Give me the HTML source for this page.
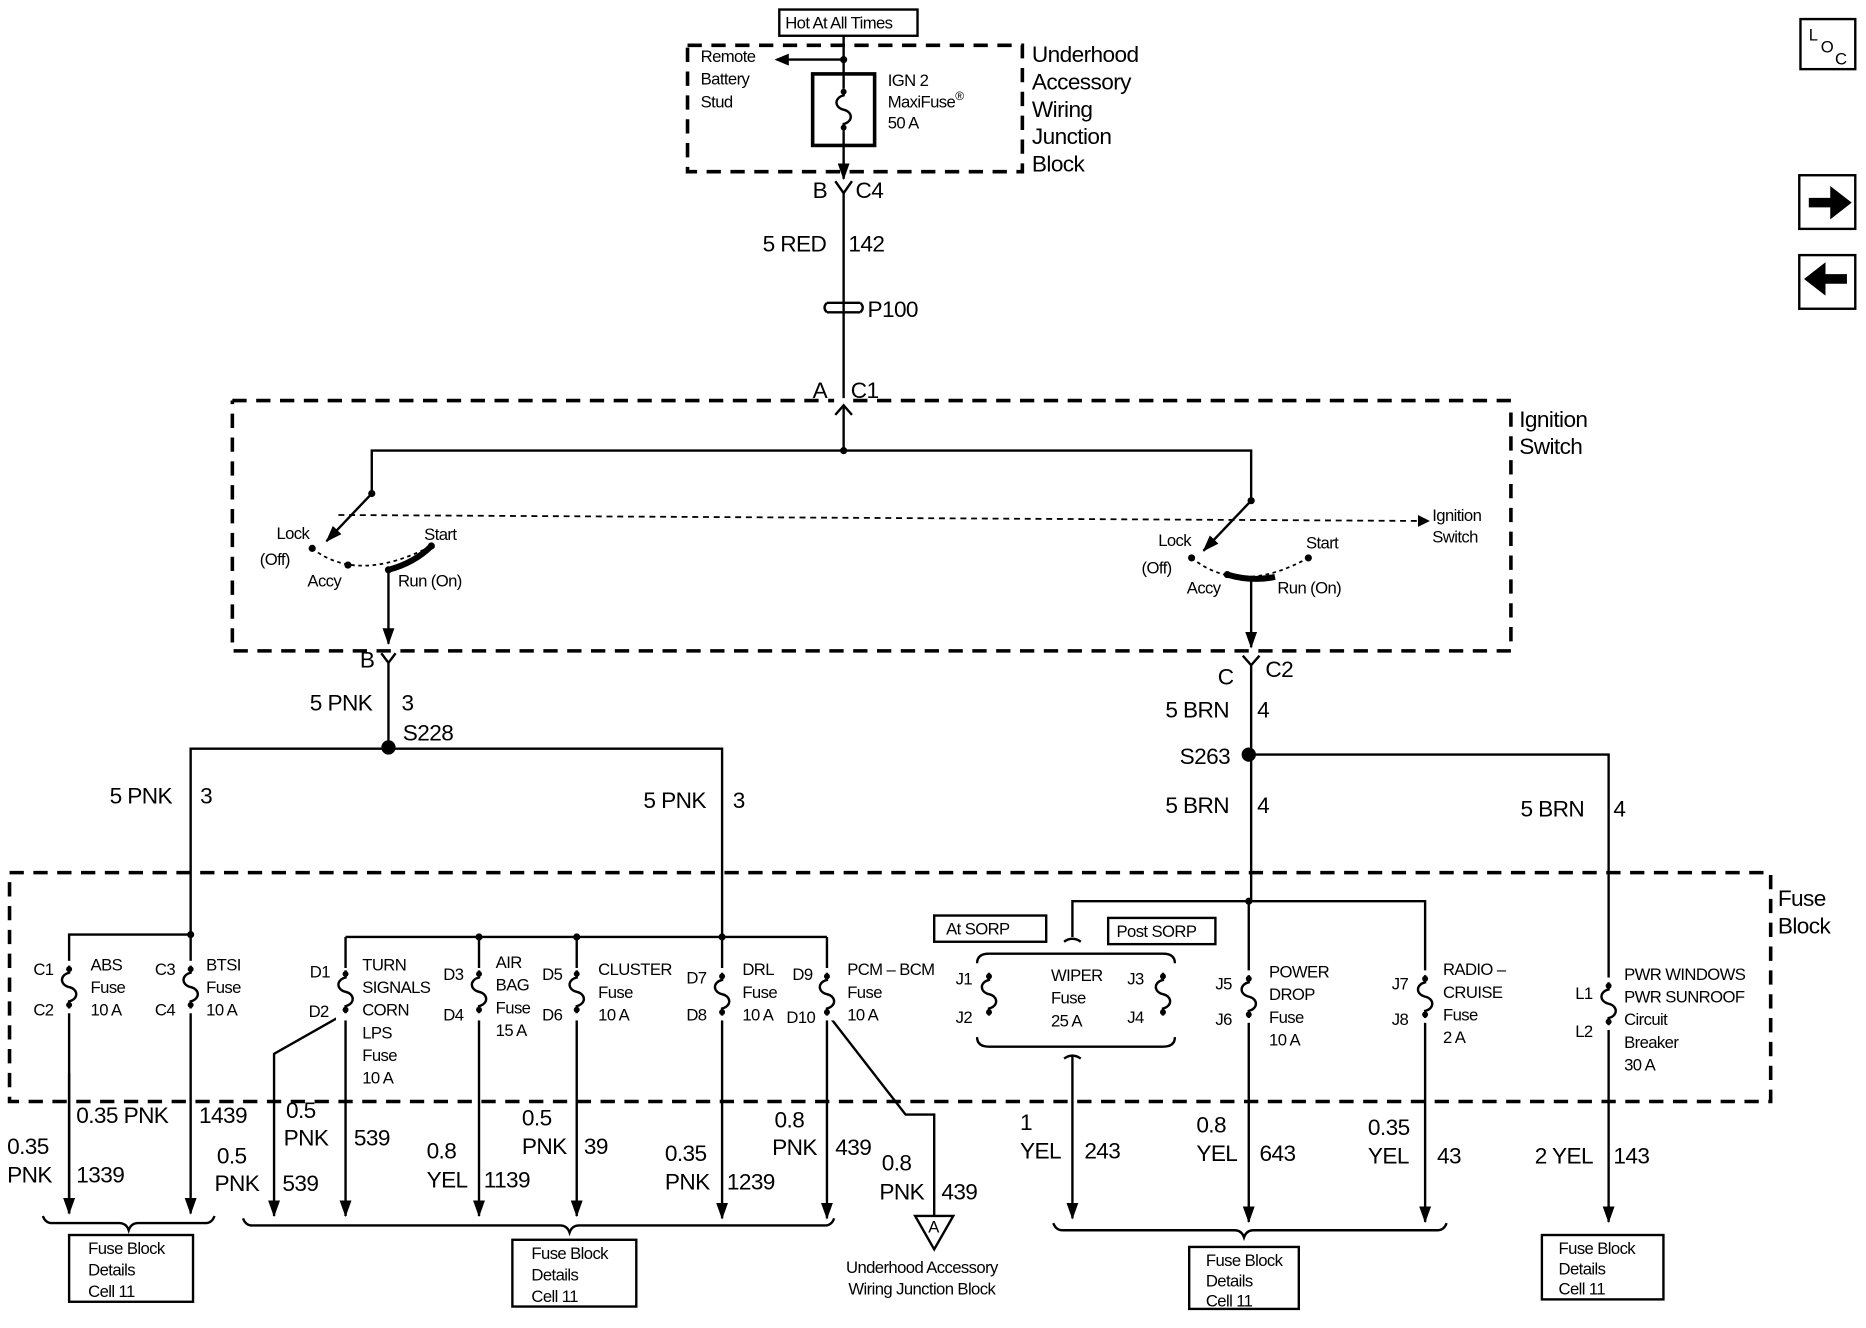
<!DOCTYPE html>
<html><head><meta charset="utf-8"><style>
html,body{margin:0;padding:0;background:#fff;}
svg{display:block;}
text{font-family:"Liberation Sans",sans-serif;fill:#000;}
.s{font-size:14px;letter-spacing:-0.5px}
.m{font-size:15px;letter-spacing:-0.5px}
.b{font-size:19px;letter-spacing:-0.5px}
.w{stroke:#000;stroke-width:2;fill:none}
.d{stroke:#000;stroke-width:3;fill:none;stroke-dasharray:12,8}
</style></head><body>
<svg width="1866" height="1328" viewBox="0 0 1566 1114" preserveAspectRatio="none" xmlns="http://www.w3.org/2000/svg">
<defs>
<marker id="ah" markerWidth="14" markerHeight="10" refX="13" refY="5" orient="auto" markerUnits="userSpaceOnUse"><path d="M0,0 L14,5 L0,10 z" fill="#000"/></marker>
<g id="fuse"><path d="M0,0 v6 c-8,2 -8,10 0,12 c8,2 8,10 0,12 v6" stroke="#000" stroke-width="2" fill="none"/><circle cx="0" cy="3" r="2.5" fill="#000"/><circle cx="0" cy="33" r="2.5" fill="#000"/></g>
</defs>

<!-- right side icons -->
<rect x="1511" y="16" width="46" height="42" class="w" stroke-width="3"/>
<text x="1518" y="34" class="s">L</text><text x="1528" y="44" class="s">O</text><text x="1540" y="54" class="s">C</text>
<rect x="1510" y="147" width="47" height="45" class="w" stroke-width="3"/>
<path d="M1518,166 h18 v-10 l18,14 l-18,14 v-10 h-18z" fill="#000"/>
<rect x="1510" y="214" width="47" height="45" class="w" stroke-width="3"/>
<path d="M1550,230 h-18 v-10 l-18,14 l18,14 v-10 h18z" fill="#000"/>

<!-- top -->
<rect x="654" y="8" width="116" height="22" class="w"/>
<text x="659" y="24" class="s">Hot At All Times</text>
<path d="M577,38 H858 V144 H577 Z" class="d"/>
<line x1="708" y1="30" x2="708" y2="150" class="w" marker-end="url(#ah)"/>
<circle cx="708" cy="50" r="3" fill="#000"/>
<line x1="708" y1="50" x2="652" y2="50" class="w"/>
<path d="M650,50 l12,-5 v10z" fill="#000"/>
<text x="588" y="52" class="s">Remote</text><text x="588" y="71" class="s">Battery</text><text x="588" y="90" class="s">Stud</text>
<rect x="682" y="62" width="52" height="60" fill="#fff" stroke="#000" stroke-width="3"/>
<use href="#fuse" x="708" y="74"/>
<line x1="708" y1="62" x2="708" y2="74" class="w"/><line x1="708" y1="110" x2="708" y2="122" class="w"/>
<text x="745" y="72" class="s">IGN 2</text><text x="745" y="90" class="s">MaxiFuse<tspan font-size="10" dy="-6">®</tspan></text><text x="745" y="108" class="s">50 A</text>
<text x="866" y="52" class="b">Underhood</text><text x="866" y="75" class="b">Accessory</text><text x="866" y="98" class="b">Wiring</text><text x="866" y="121" class="b">Junction</text><text x="866" y="144" class="b">Block</text>
<text x="682" y="166" class="b">B</text><path d="M701,152 l7,10 l7,-10" class="w"/><text x="718" y="166" class="b">C4</text>
<line x1="708" y1="162" x2="708" y2="334" class="w"/>
<text x="640" y="211" class="b">5 RED</text><text x="712" y="211" class="b">142</text>
<path d="M694,254 h28 M694,262 h28" class="w"/><path d="M694,254 q-4,4 0,8 M722,254 q4,4 0,8" class="w"/>
<text x="728" y="266" class="b">P100</text>
<text x="682" y="334" class="b">A</text><text x="714" y="334" class="b">C1</text>
<path d="M701,348 l7,-8 l7,8" class="w"/>

<!-- ignition switch box -->
<path d="M195,336 H700 M716,336 H1268 M1268,346 V546 H195 V336" class="d"/>
<text x="1275" y="358" class="b">Ignition</text><text x="1275" y="381" class="b">Switch</text>
<line x1="708" y1="340" x2="708" y2="378" class="w"/>
<circle cx="708" cy="378" r="3" fill="#000"/>
<path d="M312,414 V378 H1050 V420" class="w"/>
<circle cx="312" cy="414" r="3" fill="#000"/><circle cx="1050" cy="420" r="3" fill="#000"/>
<line x1="312" y1="414" x2="274" y2="454" class="w" marker-end="url(#ah)"/>
<line x1="1050" y1="420" x2="1010" y2="462" class="w" marker-end="url(#ah)"/>
<line x1="284" y1="432" x2="1192" y2="437" stroke="#000" stroke-width="1.5" stroke-dasharray="5,4"/>
<path d="M1200,437 l-10,-5 v10z" fill="#000"/>
<text x="1202" y="437" class="s">Ignition</text><text x="1202" y="455" class="s">Switch</text>
<path d="M262,460 Q300,490 362,458" stroke="#000" stroke-width="1.5" stroke-dasharray="3,3" fill="none"/>
<path d="M326,478 Q348,472 362,458" stroke="#000" stroke-width="5" fill="none"/>
<circle cx="262" cy="460" r="3" fill="#000"/><circle cx="292" cy="474" r="3" fill="#000"/><circle cx="326" cy="478" r="3" fill="#000"/><circle cx="362" cy="458" r="3" fill="#000"/>
<text x="232" y="452" class="s">Lock</text><text x="218" y="474" class="s">(Off)</text><text x="258" y="492" class="s">Accy</text><text x="356" y="453" class="s">Start</text><text x="334" y="492" class="s">Run (On)</text>
<line x1="326" y1="478" x2="326" y2="540" class="w" marker-end="url(#ah)"/>
<path d="M1000,468 Q1040,500 1098,468" stroke="#000" stroke-width="1.5" stroke-dasharray="3,3" fill="none"/>
<path d="M1030,482 Q1050,488 1070,484" stroke="#000" stroke-width="5" fill="none"/>
<circle cx="1000" cy="468" r="3" fill="#000"/><circle cx="1030" cy="482" r="3" fill="#000"/><circle cx="1098" cy="468" r="3" fill="#000"/>
<text x="972" y="458" class="s">Lock</text><text x="958" y="481" class="s">(Off)</text><text x="996" y="498" class="s">Accy</text><text x="1096" y="460" class="s">Start</text><text x="1072" y="498" class="s">Run  (On)</text>
<line x1="1050" y1="484" x2="1050" y2="543" class="w" marker-end="url(#ah)"/>

<!-- under switch -->
<text x="302" y="560" class="b">B</text><path d="M320,548 l6,8 l6,-8" class="w"/>
<line x1="326" y1="556" x2="326" y2="628" class="w"/>
<text x="260" y="596" class="b">5 PNK</text><text x="337" y="596" class="b">3</text>
<circle cx="326" cy="627" r="6" fill="#000"/><text x="338" y="621" class="b">S228</text>
<path d="M160,784 V628 H606 V786" class="w"/>
<text x="92" y="674" class="b">5 PNK</text><text x="168" y="674" class="b">3</text>
<text x="540" y="678" class="b">5 PNK</text><text x="615" y="678" class="b">3</text>
<text x="1022" y="574" class="b">C</text><path d="M1043,550 l7,8 l7,-8" class="w"/><text x="1062" y="568" class="b">C2</text>
<line x1="1050" y1="558" x2="1050" y2="756" class="w"/>
<text x="978" y="602" class="b">5 BRN</text><text x="1055" y="602" class="b">4</text>
<circle cx="1048" cy="633" r="6" fill="#000"/><text x="990" y="641" class="b">S263</text>
<path d="M1048,633 H1350 V1025" class="w" marker-end="url(#ah)"/>
<text x="978" y="682" class="b">5 BRN</text><text x="1055" y="682" class="b">4</text>
<text x="1276" y="685" class="b">5 BRN</text><text x="1354" y="685" class="b">4</text>

<!-- fuse block box -->
<path d="M8,732 H1486 V924 H8 Z" class="d" stroke-dasharray="18,10"/>
<text x="1492" y="760" class="b">Fuse</text><text x="1492" y="783" class="b">Block</text>

<!-- ABS/BTSI -->
<path d="M58,1018 V784 H160 V1018" class="w" marker-end="url(#ah)"/>
<line x1="58" y1="900" x2="58" y2="1018" class="w" marker-end="url(#ah)"/>
<circle cx="160" cy="784" r="3" fill="#000"/>
<rect x="50" y="806" width="16" height="44" fill="#fff"/><use href="#fuse" x="58" y="810"/>
<rect x="152" y="806" width="16" height="44" fill="#fff"/><use href="#fuse" x="160" y="810"/>
<text x="28" y="818" class="s">C1</text><text x="28" y="852" class="s">C2</text>
<text x="76" y="814" class="s">ABS</text><text x="76" y="833" class="s">Fuse</text><text x="76" y="852" class="s">10 A</text>
<text x="130" y="818" class="s">C3</text><text x="130" y="852" class="s">C4</text>
<text x="173" y="814" class="s">BTSI</text><text x="173" y="833" class="s">Fuse</text><text x="173" y="852" class="s">10 A</text>

<!-- D group -->
<path d="M290,786 H694" class="w"/>
<circle cx="402" cy="786" r="3" fill="#000"/><circle cx="484" cy="786" r="3" fill="#000"/><circle cx="606" cy="786" r="3" fill="#000"/>
<line x1="290" y1="786" x2="290" y2="1020" class="w" marker-end="url(#ah)"/>
<line x1="402" y1="786" x2="402" y2="1020" class="w" marker-end="url(#ah)"/>
<line x1="484" y1="786" x2="484" y2="1020" class="w" marker-end="url(#ah)"/>
<line x1="606" y1="786" x2="606" y2="1022" class="w" marker-end="url(#ah)"/>
<line x1="694" y1="786" x2="694" y2="1022" class="w" marker-end="url(#ah)"/>
<path d="M290,850 L230,884 V1020" class="w" marker-end="url(#ah)"/>
<path d="M694,850 L760,935 H784 V1020" class="w"/>
<g fill="#fff"><rect x="282" y="812" width="16" height="44"/><rect x="394" y="812" width="16" height="44"/><rect x="476" y="812" width="16" height="44"/><rect x="598" y="812" width="16" height="44"/><rect x="686" y="812" width="16" height="44"/></g>
<use href="#fuse" x="290" y="814"/><use href="#fuse" x="402" y="814"/><use href="#fuse" x="484" y="814"/><use href="#fuse" x="606" y="816"/><use href="#fuse" x="694" y="816"/>
<text x="260" y="820" class="s">D1</text><text x="259" y="853" class="s">D2</text>
<text x="304" y="814" class="s">TURN</text><text x="304" y="833" class="s">SIGNALS</text><text x="304" y="852" class="s">CORN</text><text x="304" y="871" class="s">LPS</text><text x="304" y="890" class="s">Fuse</text><text x="304" y="909" class="s">10 A</text>
<text x="372" y="822" class="s">D3</text><text x="372" y="856" class="s">D4</text>
<text x="416" y="812" class="s">AIR</text><text x="416" y="831" class="s">BAG</text><text x="416" y="850" class="s">Fuse</text><text x="416" y="869" class="s">15 A</text>
<text x="455" y="822" class="s">D5</text><text x="455" y="856" class="s">D6</text>
<text x="502" y="818" class="s">CLUSTER</text><text x="502" y="837" class="s">Fuse</text><text x="502" y="856" class="s">10 A</text>
<text x="576" y="825" class="s">D7</text><text x="576" y="856" class="s">D8</text>
<text x="623" y="818" class="s">DRL</text><text x="623" y="837" class="s">Fuse</text><text x="623" y="856" class="s">10 A</text>
<text x="665" y="822" class="s">D9</text><text x="660" y="858" class="s">D10</text>
<text x="711" y="818" class="s">PCM – BCM</text><text x="711" y="837" class="s">Fuse</text><text x="711" y="856" class="s">10 A</text>
<path d="M768,1020 H800 L784,1048 Z" fill="#fff" stroke="#000" stroke-width="2"/>
<text x="779" y="1034" class="s" font-size="12">A</text>
<text x="710" y="1068" class="s">Underhood Accessory</text><text x="712" y="1086" class="s">Wiring Junction Block</text>

<!-- right group -->
<path d="M900,786 V756 H1196 V1025" class="w" marker-end="url(#ah)"/>
<circle cx="1048" cy="756" r="3" fill="#000"/>
<line x1="1048" y1="756" x2="1048" y2="1025" class="w" marker-end="url(#ah)"/>
<rect x="784" y="768" width="94" height="22" class="w"/><text x="794" y="784" class="s">At SORP</text>
<rect x="930" y="770" width="90" height="22" class="w"/><text x="937" y="786" class="s">Post SORP</text>
<path d="M893,790 q7,-5 14,0" class="w"/>
<path d="M820,808 Q820,800 830,800 H976 Q986,800 986,808 M820,870 Q820,878 830,878 H976 Q986,878 986,870" class="w"/>
<path d="M893,888 q7,-5 14,0" class="w"/>
<line x1="900" y1="886" x2="900" y2="1022" class="w" marker-end="url(#ah)"/>
<use href="#fuse" x="830" y="816"/><use href="#fuse" x="976" y="816"/>
<text x="802" y="826" class="s">J1</text><text x="802" y="858" class="s">J2</text>
<text x="946" y="826" class="s">J3</text><text x="946" y="858" class="s">J4</text>
<text x="882" y="823" class="s">WIPER</text><text x="882" y="842" class="s">Fuse</text><text x="882" y="861" class="s">25 A</text>
<rect x="1040" y="814" width="16" height="44" fill="#fff"/><use href="#fuse" x="1048" y="818"/>
<rect x="1188" y="814" width="16" height="44" fill="#fff"/><use href="#fuse" x="1196" y="818"/>
<rect x="1342" y="820" width="16" height="44" fill="#fff"/><use href="#fuse" x="1350" y="824"/>
<text x="1020" y="830" class="s">J5</text><text x="1020" y="860" class="s">J6</text>
<text x="1065" y="820" class="s">POWER</text><text x="1065" y="839" class="s">DROP</text><text x="1065" y="858" class="s">Fuse</text><text x="1065" y="877" class="s">10 A</text>
<text x="1168" y="830" class="s">J7</text><text x="1168" y="860" class="s">J8</text>
<text x="1211" y="818" class="s">RADIO –</text><text x="1211" y="837" class="s">CRUISE</text><text x="1211" y="856" class="s">Fuse</text><text x="1211" y="875" class="s">2 A</text>
<text x="1322" y="838" class="s">L1</text><text x="1322" y="870" class="s">L2</text>
<text x="1363" y="822" class="s">PWR WINDOWS</text><text x="1363" y="841" class="s">PWR SUNROOF</text><text x="1363" y="860" class="s">Circuit</text><text x="1363" y="879" class="s">Breaker</text><text x="1363" y="898" class="s">30 A</text>

<!-- wire labels bottom -->
<text x="64" y="942" class="b">0.35 PNK</text><text x="167" y="942" class="b">1439</text>
<text x="6" y="968" class="b">0.35</text><text x="6" y="992" class="b">PNK</text><text x="64" y="992" class="b">1339</text>
<text x="240" y="938" class="b">0.5</text><text x="238" y="961" class="b">PNK</text><text x="297" y="961" class="b">539</text>
<text x="182" y="976" class="b">0.5</text><text x="180" y="999" class="b">PNK</text><text x="237" y="999" class="b">539</text>
<text x="358" y="972" class="b">0.8</text><text x="358" y="996" class="b">YEL</text><text x="406" y="996" class="b">1139</text>
<text x="438" y="944" class="b">0.5</text><text x="438" y="968" class="b">PNK</text><text x="490" y="968" class="b">39</text>
<text x="558" y="974" class="b">0.35</text><text x="558" y="998" class="b">PNK</text><text x="610" y="998" class="b">1239</text>
<text x="650" y="946" class="b">0.8</text><text x="648" y="969" class="b">PNK</text><text x="701" y="969" class="b">439</text>
<text x="740" y="982" class="b">0.8</text><text x="738" y="1006" class="b">PNK</text><text x="790" y="1006" class="b">439</text>
<text x="856" y="948" class="b">1</text><text x="856" y="972" class="b">YEL</text><text x="910" y="972" class="b">243</text>
<text x="1004" y="950" class="b">0.8</text><text x="1004" y="974" class="b">YEL</text><text x="1057" y="974" class="b">643</text>
<text x="1148" y="952" class="b">0.35</text><text x="1148" y="976" class="b">YEL</text><text x="1206" y="976" class="b">43</text>
<text x="1288" y="976" class="b">2 YEL</text><text x="1354" y="976" class="b">143</text>

<!-- braces and boxes -->
<path d="M36,1020 q2,6 8,6 H100 q6,0 8,6 q2,-6 8,-6 H172 q6,0 8,-6" class="w" stroke-width="1.5"/>
<rect x="58" y="1036" width="104" height="56" class="w"/>
<text x="74" y="1052" class="s">Fuse Block</text><text x="74" y="1070" class="s">Details</text><text x="74" y="1088" class="s">Cell 11</text>
<path d="M204,1022 q2,6 8,6 H470 q6,0 8,6 q2,-6 8,-6 H692 q6,0 8,-6" class="w" stroke-width="1.5"/>
<rect x="430" y="1040" width="104" height="56" class="w"/>
<text x="446" y="1056" class="s">Fuse Block</text><text x="446" y="1074" class="s">Details</text><text x="446" y="1092" class="s">Cell 11</text>
<path d="M884,1026 q2,6 8,6 H1036 q6,0 8,6 q2,-6 8,-6 H1206 q6,0 8,-6" class="w" stroke-width="1.5"/>
<rect x="998" y="1046" width="92" height="52" class="w"/>
<text x="1012" y="1062" class="s">Fuse Block</text><text x="1012" y="1079" class="s">Details</text><text x="1012" y="1096" class="s">Cell 11</text>
<rect x="1294" y="1036" width="102" height="54" class="w"/>
<text x="1308" y="1052" class="s">Fuse Block</text><text x="1308" y="1069" class="s">Details</text><text x="1308" y="1086" class="s">Cell 11</text>
</svg>
</body></html>
